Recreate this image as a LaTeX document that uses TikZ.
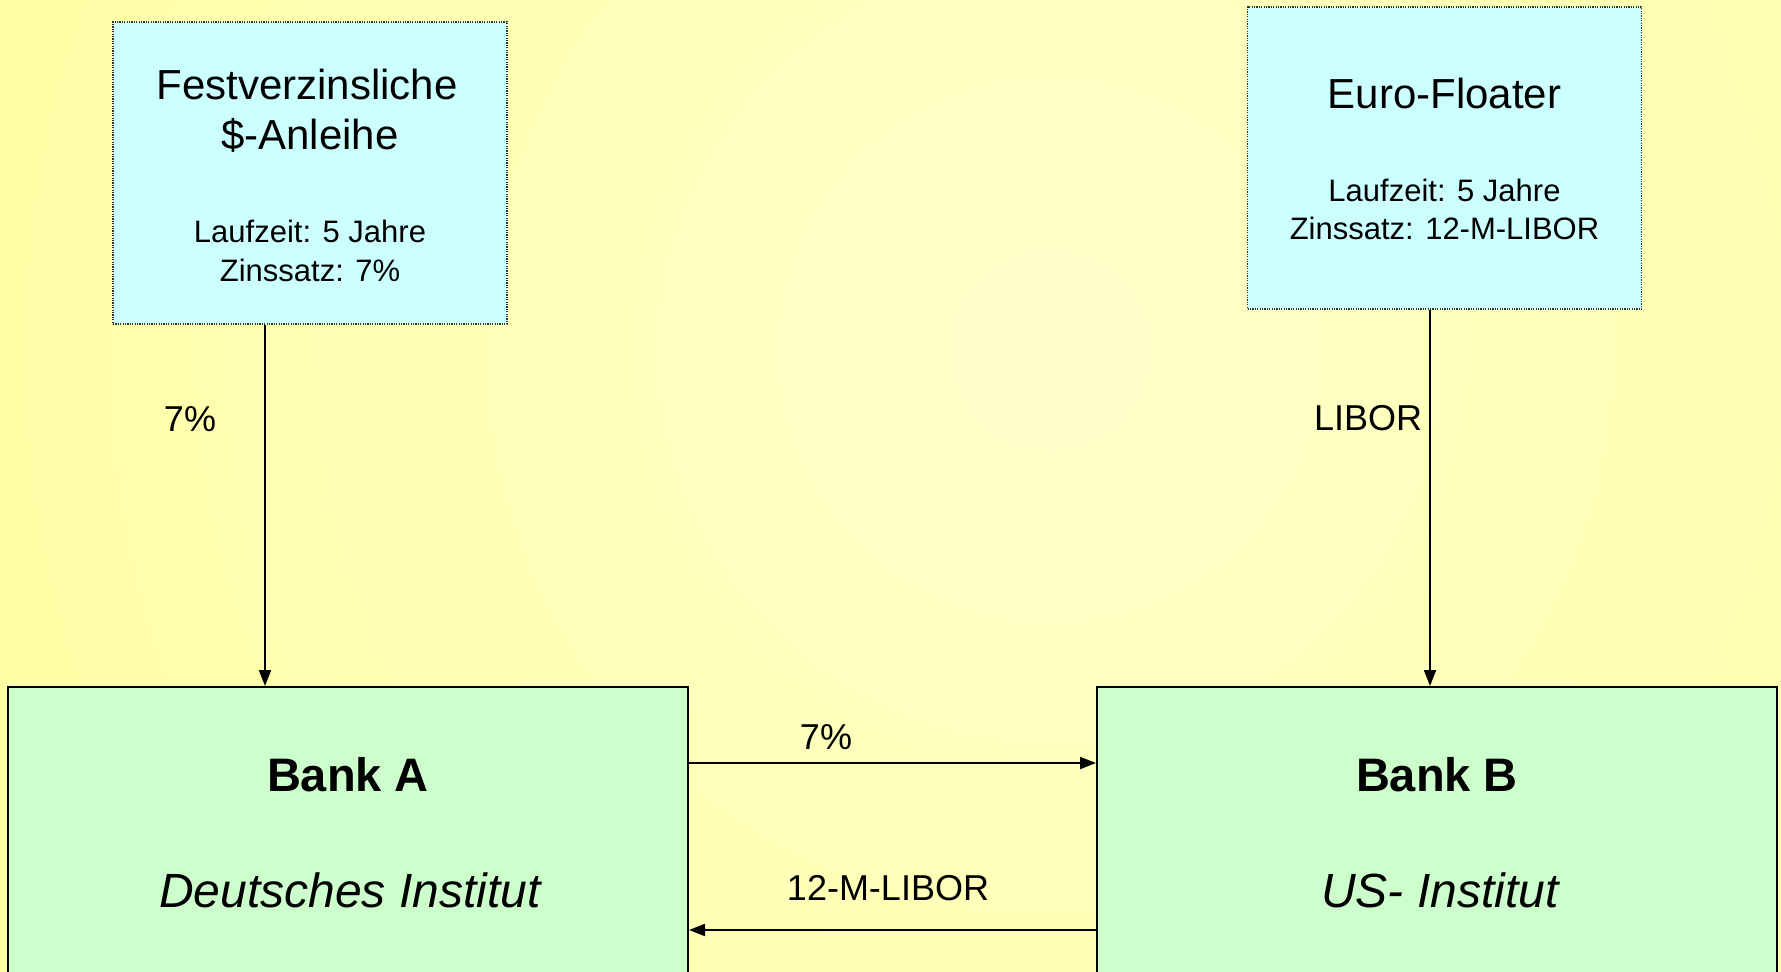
\documentclass[tikz,border=0pt]{standalone}
\usepackage{fontspec}
\setmainfont{Liberation Sans}
\usetikzlibrary{arrows.meta}
\definecolor{bgpale}{HTML}{FFFFCC}
\definecolor{bgyel}{HTML}{FFFFA6}
\definecolor{cyanbox}{HTML}{CCFFFF}
\definecolor{greenbox}{HTML}{CCFFCC}
\tikzset{
  bondbox/.style={draw=black!80, line width=0.6pt, dash pattern=on 0.6pt off 0.6pt, fill=cyanbox, minimum width=197pt, minimum height=151pt, inner sep=0pt},
  bankbox/.style={draw=black, line width=1pt, fill=greenbox, minimum width=340pt, minimum height=220pt, inner sep=0pt},
  bigtxt/.style={anchor=base, inner sep=0pt, font=\fontsize{21}{25}\selectfont},
  smalltxt/.style={anchor=base, inner sep=0pt, font=\fontsize{15.5}{19}\selectfont},
  lbl/.style={anchor=base, inner sep=0pt, font=\fontsize{18}{21}\selectfont},
  banktitle/.style={anchor=base, inner sep=0pt, font=\fontsize{23.5}{28}\selectfont\bfseries},
  banksub/.style={anchor=base, inner sep=0pt, font=\fontsize{24}{28}\selectfont\itshape},
  arr/.style={line width=1pt, -{Triangle[length=8pt,width=6pt]}}
}
\begin{document}
\begin{tikzpicture}[x=0.5pt,y=-0.5pt]
\useasboundingbox (0,0) rectangle (1781,972);
\clip (0,0) rectangle (1781,972);
\fill[bgyel] (0,0) rectangle (1781,972);
\shade[inner color=bgpale, outer color=bgyel] (1050,350) circle[radius=1100];

% top boxes
\node[bondbox] (tl) at (310,173) {};
\node[bigtxt] (tl1) at (307,100) {Festverzinsliche};
\node[bigtxt] (tl2) at (310,150) {\$-Anleihe};
\node[smalltxt] (tl3) at (310,243) {Laufzeit: 5 Jahre};
\node[smalltxt] (tl4) at (310,282) {Zinssatz: 7\%};

\node[bondbox] (tr) at (1444.5,158) {};
\node[bigtxt] (tr1) at (1444.5,109) {Euro-Floater};
\node[smalltxt] (tr2) at (1444.5,202) {Laufzeit: 5 Jahre};
\node[smalltxt] (tr3) at (1444.5,240) {Zinssatz: 12-M-LIBOR};

% banks
\node[bankbox] (bankA) at (348,907) {};
\node[banktitle] (bA1) at (348,791) {Bank A};
\node[banksub] (bA2) at (350,907) {Deutsches Institut};

\node[bankbox] (bankB) at (1437,907) {};
\node[banktitle] (bB1) at (1437,791) {Bank B};
\node[banksub] (bB2) at (1440,907) {US- Institut};

% connectors
\coordinate (xa) at (265,0);
\coordinate (xb) at (1430,0);
\coordinate (ya) at (0,763);
\coordinate (yb) at (0,930);
\draw[arr] (tl.south -| xa) -- (bankA.north -| xa);
\draw[arr] (tr.south -| xb) -- (bankB.north -| xb);
\draw[arr] (bankA.east |- ya) -- (bankB.west |- ya);
\draw[arr] (bankB.west |- yb) -- (bankA.east |- yb);

% labels
\node[lbl] (l1) at (190,432) {7\%};
\node[lbl] (l2) at (1368,431) {LIBOR};
\node[lbl] (l3) at (826,749) {7\%};
\node[lbl] (l4) at (888,900) {12-M-LIBOR};
\end{tikzpicture}
\end{document}
